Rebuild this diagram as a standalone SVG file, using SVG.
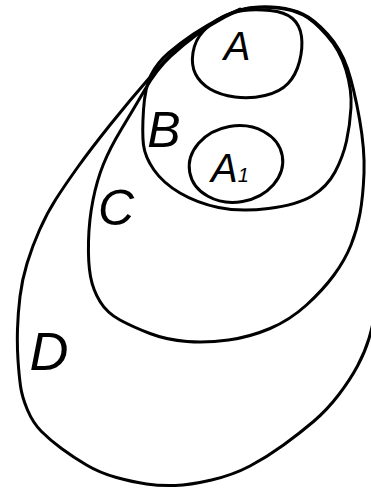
<svg xmlns="http://www.w3.org/2000/svg" width="371" height="489" viewBox="0 0 371 489">
<style>
.o{fill:none;stroke:#000;stroke-width:3;stroke-linecap:round;stroke-linejoin:round}
.t{font-family:"Liberation Sans",Arial,sans-serif;font-style:italic;fill:#000;text-anchor:middle}
</style>
<rect width="371" height="489" fill="#fff"/>
<g id="connectors"></g>
<g id="D">
<path class="o" d="M240,9 Q205,26 188.5,39 Q172,52 151,76 Q130,100 110,125 Q90,150 77.5,167.5 Q65,185 56,199 Q47,213 39.5,230 Q32,247 27,263.5 Q22,280 20,296.5 Q18,313 17.5,329 Q17,345 18,360 Q19,375 20.5,386 Q22,397 27.5,410 Q33,423 41.5,431.5 Q50,440 61.5,448.5 Q73,457 86.5,465 Q100,473 116.5,477.5 Q133,482 146.5,484 Q160,486 175,485.5 Q190,485 211.5,480 Q233,475 250,466 Q267,457 283.5,445 Q300,433 313.5,421.5 Q327,410 338.5,395 Q350,380 357.5,366 Q365,352 369,338.5 Q373,325 378,300"/>
<text class="t" x="49" y="370" font-size="54">D</text>
</g>
<g id="C">
<path class="o" d="M252.5,7.5 Q265,6 278.5,7.5 Q292,9 303,14 Q314,19 327.5,34 Q341,49 347.5,68.5 Q354,88 359.5,119 Q365,150 364,173.5 Q363,197 360,213.5 Q357,230 351,245 Q345,260 334,275 Q323,290 306.5,305 Q290,320 270,328.5 Q250,337 228.5,340 Q207,343 187,341.5 Q167,340 150,333.5 Q133,327 120,320 Q107,313 100,301.5 Q93,290 90.5,276.5 Q88,263 88.5,241.5 Q89,220 93,200 Q97,180 103.5,164 Q110,148 121.5,129 Q133,110 145,89.5 Q157,69 170.5,56.5 Q184,44 197,34.5 Q210,25 225,17 Q240,9 252.5,7.5 Z"/>
<text class="t" x="116" y="225" font-size="50">C</text>
</g>
<g id="B">
<path class="o" d="M255,7.5 Q270,7 281.5,8.5 Q293,10 303,15 Q313,20 326.5,35 Q340,50 346,70 Q352,90 351,107.5 Q350,125 346.5,141 Q343,157 335,172 Q327,187 312,196 Q297,205 268.5,208.5 Q240,212 218.5,207.5 Q197,203 180,193 Q163,183 154,170 Q145,157 143.5,145 Q142,133 143.5,110 Q145,87 151,75 Q157,63 168.5,53 Q180,43 193.5,34 Q207,25 223.5,16.5 Q240,8 255,7.5 Z"/>
<text class="t" x="164" y="147" font-size="50">B</text>
</g>
<g id="A">
<path class="o" d="M243.5,10.5 Q255,9 270,10.5 Q285,12 292.5,18.5 Q300,25 301.5,36.5 Q303,48 299.5,61.5 Q296,75 288,83.5 Q280,92 265,95.5 Q250,99 235,97 Q220,95 210,89 Q200,83 195.5,74 Q191,65 193,52.5 Q195,40 203.5,31 Q212,22 222,17 Q232,12 243.5,10.5 Z"/>
<text class="t" x="237" y="60" font-size="40">A</text>
</g>
<g id="A1">
<ellipse class="o" cx="236" cy="164" rx="47" ry="38" transform="rotate(-10 236 164)"/>
<text class="t" x="230" y="182" font-size="40">A<tspan font-size="20">1</tspan></text>
</g>
</svg>
